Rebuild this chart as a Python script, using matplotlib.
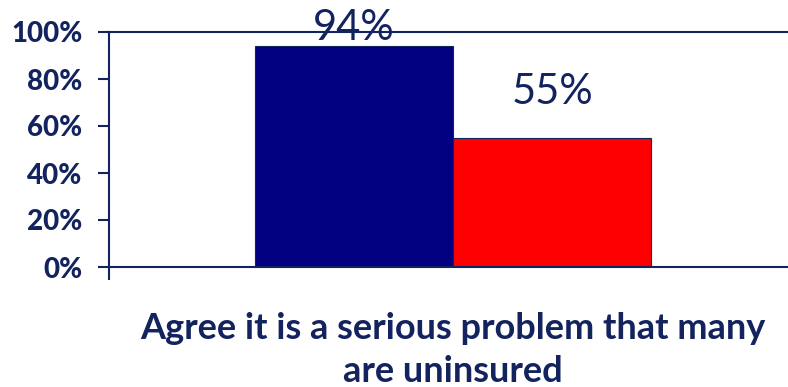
import matplotlib
matplotlib.use("Agg")
import matplotlib.pyplot as plt
from matplotlib.ticker import PercentFormatter

# Survey result
category = "Agree it is a serious problem that many\nare uninsured"
series = ["Group A", "Group B"]
values = [0.94, 0.55]
labels = ["94%", "55%"]
colors = ["#000080", "#FF0000"]
yticks = [0, 0.2, 0.4, 0.6, 0.8, 1.0]

navy = "#13235E"
plt.rcParams["font.family"] = ["Lato", "DejaVu Sans"]

fig = plt.figure(figsize=(7.88, 3.87), dpi=100)
ax = fig.add_axes([109 / 788, 120 / 387, 688 / 788, 235 / 387])

width = 0.288
centers = [0.5 - width / 2, 0.5 + width / 2]
for c, v, col, lab in zip(centers, values, colors, labels):
    ax.bar(c, v, width=width, color=col, edgecolor=navy, linewidth=0.8, zorder=2)
    ax.text(c, min(v + 0.194, 1.017), lab, ha="center", va="center",
            fontsize=30, color=navy, zorder=3, clip_on=False)

ax.set_xlim(0, 1)
ax.set_ylim(0, 1)
ax.set_yticks(yticks)
ax.yaxis.set_major_formatter(PercentFormatter(1.0, decimals=0))
ax.set_xticks([0, 1])
ax.set_xticklabels(["", ""])

for side in ["left", "bottom", "top"]:
    ax.spines[side].set_color(navy)
    ax.spines[side].set_linewidth(1.5)
ax.spines["right"].set_visible(False)

ax.tick_params(axis="y", direction="out", length=8, width=1.5, color=navy,
               labelsize=20, labelcolor=navy, pad=11)
ax.tick_params(axis="x", direction="out", length=9, width=1.5, color=navy)
for t in ax.get_yticklabels():
    t.set_fontweight("black")

ax.set_xlabel(category, fontsize=26, fontweight="bold", color=navy,
              labelpad=20, linespacing=1.38)

fig.savefig("out.png", dpi=100)
